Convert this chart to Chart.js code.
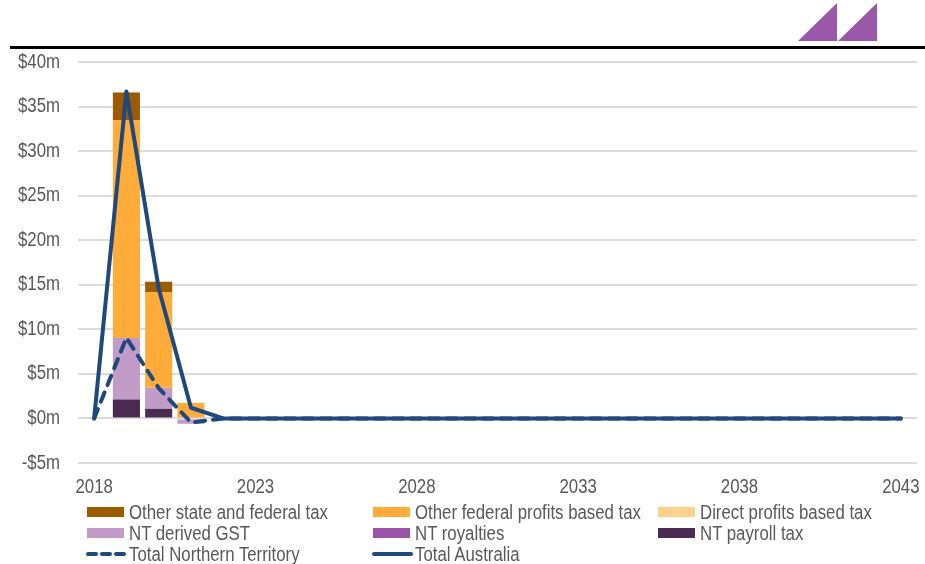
<!DOCTYPE html>
<html>
<head>
<meta charset="utf-8">
<script src="https://cdn.jsdelivr.net/npm/chart.js@4"></script>
<style>
    body { margin: 0; background: #fff; font-family: 'Liberation Sans', Arial, sans-serif; }
    #wrap { position: relative; width: 925px; height: 564px; overflow: hidden; }
    #chart { position: absolute; left: 0; top: 0; }
    .rule { position: absolute; left: 10px; top: 46px; width: 915px; height: 3px; background: #000; }
    .legend { position: absolute; left: 0; top: 0; width: 925px; height: 564px; pointer-events: none; }
    .item { position: absolute; display: flex; align-items: center; font-size: 20px; color: #595959; white-space: nowrap; height: 22px; }
    .item span { display: inline-block; transform: scaleX(0.84); transform-origin: left center; }
    .swatch { width: 37px; height: 10px; margin-right: 5px; }
    .lineKey { width: 41px; height: 10px; margin-right: 2px; }
</style>
</head>
<body>
<div id="wrap">
    <canvas id="chart" width="925" height="564"></canvas>
    <div class="rule"></div>
    <svg style="position:absolute;left:0;top:0" width="925" height="50">
        <polygon points="798,41 837,3 837,41" fill="#9B57A9"/>
        <polygon points="838,41 877,3 877,41" fill="#9B57A9"/>
    </svg>
    <div class="legend" id="legend"></div>
</div>
<script>
// Years 2018-2043
const years = [];
for (let y = 2018; y <= 2043; y++) years.push(String(y));

const tickYears = ['2018', '2023', '2028', '2033', '2038', '2043'];

// Stacked components ($m), only first years are non-zero
const otherStateFederal = [0, 3.1, 1.15, 0, 0, 0, 0, 0, 0, 0, 0, 0, 0, 0, 0, 0, 0, 0, 0, 0, 0, 0, 0, 0, 0, 0];
const otherFederalProfits = [0, 24.45, 10.75, 1.75, 0, 0, 0, 0, 0, 0, 0, 0, 0, 0, 0, 0, 0, 0, 0, 0, 0, 0, 0, 0, 0, 0];
const directProfits = [0, 0, 0, 0, 0, 0, 0, 0, 0, 0, 0, 0, 0, 0, 0, 0, 0, 0, 0, 0, 0, 0, 0, 0, 0, 0];
const ntGst = [0, 6.9, 2.36, -0.6, 0, 0, 0, 0, 0, 0, 0, 0, 0, 0, 0, 0, 0, 0, 0, 0, 0, 0, 0, 0, 0, 0];
const ntRoyalties = [0, 0, 0, 0, 0, 0, 0, 0, 0, 0, 0, 0, 0, 0, 0, 0, 0, 0, 0, 0, 0, 0, 0, 0, 0, 0];
const ntPayroll = [0, 2.13, 1.08, 0, 0, 0, 0, 0, 0, 0, 0, 0, 0, 0, 0, 0, 0, 0, 0, 0, 0, 0, 0, 0, 0, 0];

// Totals
const totalNT = [0, 9.05, 3.4, -0.45, 0, 0, 0, 0, 0, 0, 0, 0, 0, 0, 0, 0, 0, 0, 0, 0, 0, 0, 0, 0, 0, 0];
const totalAustralia = [0, 36.7, 14.6, 1.2, 0, 0, 0, 0, 0, 0, 0, 0, 0, 0, 0, 0, 0, 0, 0, 0, 0, 0, 0, 0, 0, 0];

const NAVY = '#1F497D';
const TEXT = '#595959';
const FONT = "'Liberation Sans', Arial, sans-serif";
const SQUEEZE = 0.84; // original uses a narrow face

const barSeries = [
    { label: 'NT payroll tax', data: ntPayroll, color: '#4A2C52' },
    { label: 'NT royalties', data: ntRoyalties, color: '#9A55A8' },
    { label: 'NT derived GST', data: ntGst, color: '#C39BC9' },
    { label: 'Direct profits based tax', data: directProfits, color: '#FFD08A' },
    { label: 'Other federal profits based tax', data: otherFederalProfits, color: '#FFAC3A' },
    { label: 'Other state and federal tax', data: otherStateFederal, color: '#9C5B00' }
];

const datasets = barSeries.map(s => ({
    type: 'bar',
    label: s.label,
    data: s.data,
    backgroundColor: s.color,
    stack: 'bars',
    barPercentage: 0.84,
    categoryPercentage: 1,
    order: 2
}));

datasets.push({
    type: 'line',
    label: 'Total Australia',
    data: totalAustralia,
    borderColor: NAVY,
    borderWidth: 4,
    borderJoinStyle: 'round',
    borderCapStyle: 'round',
    pointRadius: 0,
    tension: 0,
    stack: 'aus',
    order: 1
});
datasets.push({
    type: 'line',
    label: 'Total Northern Territory',
    data: totalNT,
    borderColor: NAVY,
    borderWidth: 4,
    borderDash: [10, 8],
    borderCapStyle: 'round',
    borderJoinStyle: 'round',
    pointRadius: 0,
    tension: 0,
    stack: 'nt',
    order: 0
});

// draws the axis labels in a condensed form
const narrowTicks = {
    id: 'narrowTicks',
    afterDraw(chart) {
        const ctx = chart.ctx;
        const xs = chart.scales.x, ys = chart.scales.y;
        ctx.save();
        ctx.fillStyle = TEXT;
        ctx.font = '20px ' + FONT;
        ctx.textBaseline = 'middle';
        ctx.textAlign = 'right';
        ys.ticks.forEach(t => {
            const v = t.value;
            const txt = (v < 0 ? '-$' + Math.abs(v) : '$' + v) + 'm';
            ctx.save();
            ctx.translate(60, ys.getPixelForValue(v));
            ctx.scale(SQUEEZE, 1);
            ctx.fillText(txt, 0, 0);
            ctx.restore();
        });
        ctx.textAlign = 'center';
        tickYears.forEach(l => {
            ctx.save();
            ctx.translate(xs.getPixelForValue(years.indexOf(l)), 487);
            ctx.scale(SQUEEZE, 1);
            ctx.fillText(l, 0, 0);
            ctx.restore();
        });
        ctx.restore();
    }
};

new Chart(document.getElementById('chart'), {
    type: 'bar',
    data: { labels: years, datasets: datasets },
    plugins: [narrowTicks],
    options: {
        responsive: false,
        animation: false,
        layout: { padding: { top: 62, left: 0, right: 8, bottom: 61 } },
        plugins: { legend: { display: false }, tooltip: { enabled: false } },
        scales: {
            x: {
                stacked: true,
                offset: true,
                grid: { display: false },
                border: { display: false },
                ticks: { display: false },
                afterFit: s => { s.height = 40; }
            },
            y: {
                stacked: true,
                min: -5,
                max: 40,
                border: { display: false },
                grid: { color: '#DCDCDC', lineWidth: 2, drawTicks: false },
                ticks: { display: false, stepSize: 5 },
                afterFit: s => { s.width = 78; }
            }
        }
    }
});

// HTML legend laid out in three columns like the original
const legendRows = [
    [{ label: 'Other state and federal tax', color: '#9C5B00' }, { label: 'Other federal profits based tax', color: '#FFAC3A' }, { label: 'Direct profits based tax', color: '#FFD08A' }],
    [{ label: 'NT derived GST', color: '#C39BC9' }, { label: 'NT royalties', color: '#9A55A8' }, { label: 'NT payroll tax', color: '#4A2C52' }],
    [{ label: 'Total Northern Territory', dash: true }, { label: 'Total Australia', dash: false }]
];
const colX = [87, 373, 658];
const rowY = [512, 533, 554];
const legend = document.getElementById('legend');
legendRows.forEach((row, r) => {
    row.forEach((it, c) => {
        const div = document.createElement('div');
        div.className = 'item';
        div.style.left = (colX[c] - (it.color ? 0 : 1)) + 'px';
        div.style.top = (rowY[r] - 11) + 'px';
        let key;
        if (it.color) {
            key = '<div class="swatch" style="background:' + it.color + '"></div>';
        } else {
            const dash = it.dash ? 'stroke-dasharray="8 6"' : '';
            key = '<svg class="lineKey" viewBox="0 0 41 10"><line x1="2" y1="5" x2="39" y2="5" stroke="' + NAVY +
                '" stroke-width="4" stroke-linecap="round" ' + dash + '/></svg>';
        }
        div.innerHTML = key + '<span>' + it.label + '</span>';
        legend.appendChild(div);
    });
});
</script>
</body>
</html>
